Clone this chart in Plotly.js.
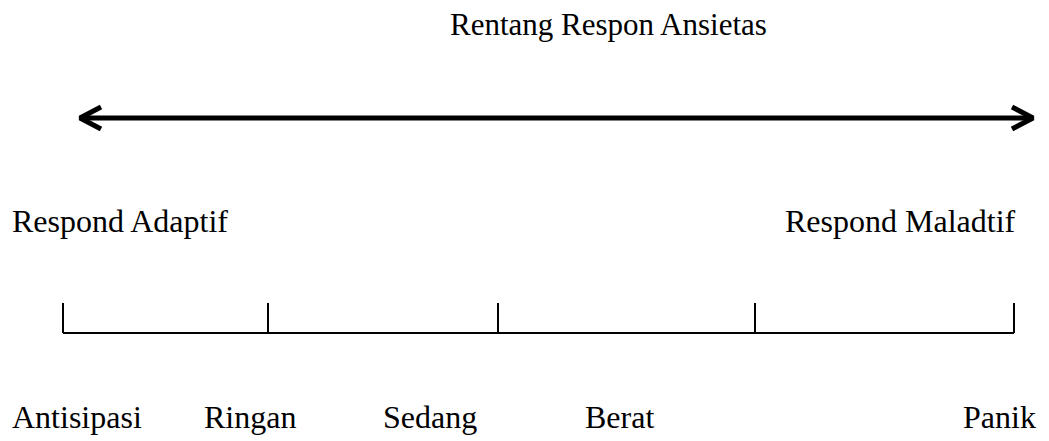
<!DOCTYPE html>
<html><head><meta charset="utf-8">
<script src="https://cdn.plot.ly/plotly-3.0.1.min.js"></script>
<style>html,body{margin:0;padding:0;background:#fff}</style>
</head><body><div id="chart" style="width:1049px;height:441px"></div>
<script>
// Diagram content
const titleText = 'Rentang Respon Ansietas';
const leftLabel = 'Respond Adaptif';
const rightLabel = 'Respond Maladtif';
const levels = ['Antisipasi', 'Ringan', 'Sedang', 'Berat', 'Panik'];
const levelTickX = [63, 268, 498, 755, 1014];
const levelLabelX = [77, 250, 430, 619, 999];
const arrowX = [80, 1033];

const traces = [];
// double-headed arrow shaft
traces.push({x: arrowX, y: [118, 118], mode: 'lines', line: {color: '#000', width: 5}, hoverinfo: 'skip'});
// arrowheads
traces.push({x: [arrowX[0] + 21, arrowX[0], arrowX[0] + 21], y: [107, 118, 129], mode: 'lines', line: {color: '#000', width: 5}, hoverinfo: 'skip'});
traces.push({x: [arrowX[1] - 21, arrowX[1], arrowX[1] - 21], y: [107, 118, 129], mode: 'lines', line: {color: '#000', width: 5}, hoverinfo: 'skip'});
// scale baseline
traces.push({x: [levelTickX[0], levelTickX[levelTickX.length - 1]], y: [333, 333], mode: 'lines', line: {color: '#000', width: 2}, hoverinfo: 'skip'});
// ticks
levelTickX.forEach(function (tx) {
  traces.push({x: [tx, tx], y: [303, 333], mode: 'lines', line: {color: '#000', width: 2}, hoverinfo: 'skip'});
});

const fam = 'Liberation Serif, Times New Roman, serif';
const fntTitle = {family: fam, size: 31, color: '#000'};
const fnt = {family: fam, size: 32, color: '#000'};
const annotations = [
  {x: 608, y: 24, text: titleText, font: fntTitle},
  {x: 120, y: 221, text: leftLabel},
  {x: 900, y: 221, text: rightLabel}
].concat(levels.map(function (l, i) { return {x: levelLabelX[i], y: 417, text: l}; }))
 .map(function (a) { return Object.assign({xref: 'x', yref: 'y', showarrow: false, font: fnt, xanchor: 'center', yanchor: 'middle'}, a); });

Plotly.newPlot('chart', traces, {
  width: 1049, height: 441,
  margin: {l: 0, r: 0, t: 0, b: 0},
  paper_bgcolor: '#fff', plot_bgcolor: '#fff',
  showlegend: false,
  xaxis: {range: [0, 1049], visible: false, fixedrange: true},
  yaxis: {range: [441, 0], visible: false, fixedrange: true},
  annotations: annotations
}, {displayModeBar: false, staticPlot: true});
</script></body></html>
